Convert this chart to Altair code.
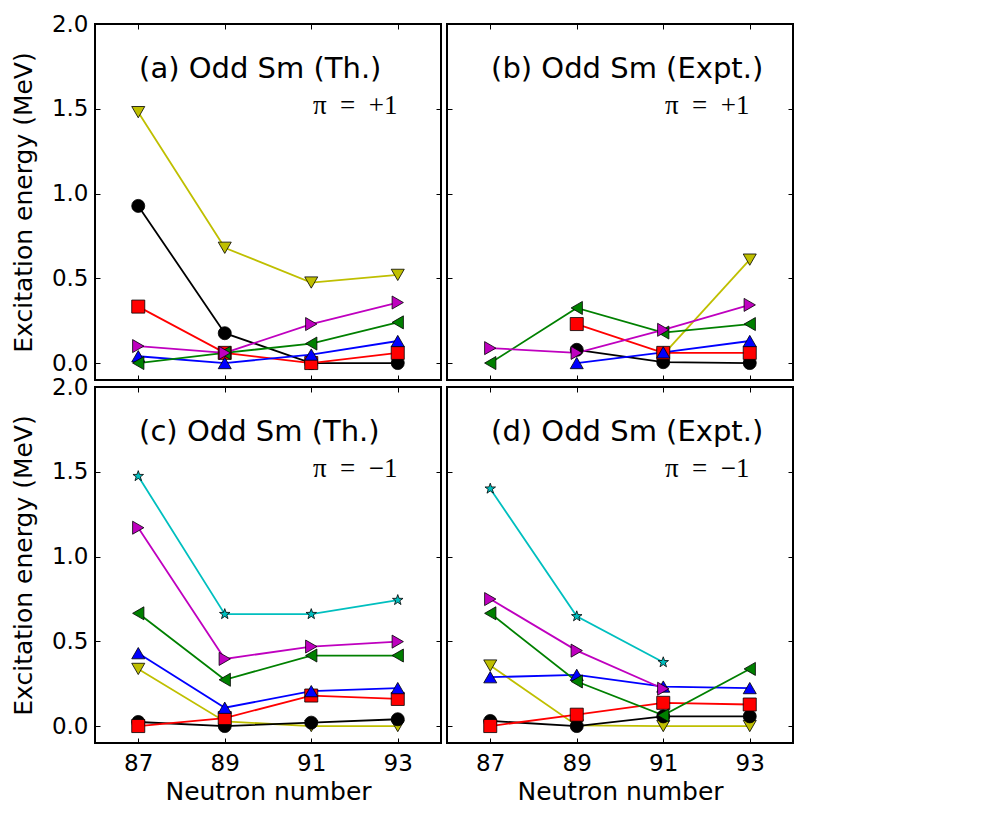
import math
import altair as alt
import pandas as pd

# ---------------- data ----------------
N = [87, 89, 91, 93]

POS_STATES = ["3/2⁺", "5/2⁺", "7/2⁺", "9/2⁺", "11/2⁺", "13/2⁺"]
NEG_STATES = ["3/2⁻", "5/2⁻", "7/2⁻", "9/2⁻", "11/2⁻", "13/2⁻", "15/2⁻"]

COLORS = ["#bfbf00", "#000000", "#ff0000", "#0000ff", "#008000", "#bf00bf", "#00bfbf"]

# (a) theory, positive parity
th_pos = [
    [1.48, 0.68, 0.475, 0.52],
    [0.927, 0.176, 0.0, 0.0],
    [0.333, 0.06, 0.0, 0.06],
    [0.04, 0.0, 0.05, 0.13],
    [0.0, 0.06, 0.115, 0.24],
    [0.10, 0.06, 0.23, 0.357],
]
# (b) experiment, positive parity
ex_pos = [
    [None, None, 0.05, 0.61],
    [None, 0.078, 0.005, 0.0],
    [None, 0.23, 0.06, 0.06],
    [None, 0.0, 0.063, 0.13],
    [0.0, 0.325, 0.18, 0.23],
    [0.088, 0.06, 0.196, 0.343],
]
# (c) theory, negative parity
th_neg = [
    [0.337, 0.027, 0.0, 0.0],
    [0.024, 0.0, 0.02, 0.04],
    [0.0, 0.047, 0.18, 0.16],
    [0.43, 0.108, 0.206, 0.224],
    [0.665, 0.273, 0.416, 0.416],
    [1.17, 0.396, 0.469, 0.498],
    [1.474, 0.66, 0.66, 0.743],
]
# (d) experiment, negative parity
ex_neg = [
    [0.357, 0.004, 0.0, 0.0],
    [0.03, 0.0, 0.057, 0.057],
    [0.0, 0.067, 0.137, 0.127],
    [0.288, 0.302, 0.233, 0.224],
    [0.665, 0.263, 0.063, 0.337],
    [0.749, 0.445, 0.22, None],
    [1.40, 0.647, 0.376, None],
]

TITLES = ["(a) Odd Sm (Th.)", "(b) Odd Sm (Expt.)", "(c) Odd Sm (Th.)", "(d) Odd Sm (Expt.)"]
PI_POS = "π\u2002=\u2002+1"
PI_NEG = "π\u2002=\u2002−1"

Y_TICKS = [0.0, 0.5, 1.0, 1.5, 2.0]
X_DOMAIN = [86, 94]
Y_DOMAIN = [-0.1, 2.0]
TITLE_AT = (87.02, 1.68)
PI_AT = (91.04, 1.47)

W, H = 346, 356


def star_path(outer=0.85, inner=0.34):
    # Vega has no built-in star symbol: give it as an SVG path
    pts = []
    for k in range(10):
        a = math.radians(-90 + 36 * k)
        r = outer if k % 2 == 0 else inner
        pts.append(f"{r * math.cos(a):.3f},{r * math.sin(a):.3f}")
    return "M" + "L".join(pts) + "Z"


SHAPES = ["triangle-down", "circle", "square", "triangle-up", "triangle-left",
          "triangle-right", star_path()]


def build_df(states, values):
    rows = []
    for s, vals in zip(states, values):
        for n, v in zip(N, vals):
            if v is not None:
                rows.append({"N": n, "E": v, "state": s})
    return pd.DataFrame(rows)


def axis(orient, values, labels, title=None, **kw):
    d = dict(domain=False, grid=False, ticks=True, tickSize=5, tickWidth=1,
             tickColor="black", offset=-5, labelFont="DejaVu Sans",
             labelFontSize=23, labelColor="black", titleFont="DejaVu Sans",
             titleFontSize=25, titleFontWeight="normal", titleColor="black",
             orient=orient, values=values, labels=labels, title=title)
    d.update(kw)
    return alt.Axis(**d)


def make_legend(x, y, pad, rowpad, symoff, laboff):
    return alt.Legend(title=None, orient="none", legendX=x, legendY=y,
                      direction="vertical", padding=pad, rowPadding=rowpad,
                      symbolOffset=symoff, labelOffset=laboff, symbolSize=170,
                      symbolStrokeWidth=0.8, symbolStrokeColor="black",
                      labelFont="Liberation Serif", labelFontSize=30,
                      labelColor="black", strokeColor="black", fillColor="white",
                      labelExpr="datum.label + '  '")


def panel(df, states, title, pi_text, show_x, show_y, legend=None):
    n = len(states)
    xs = alt.Scale(domain=X_DOMAIN, nice=False, zero=False)
    ys = alt.Scale(domain=Y_DOMAIN, nice=False, zero=False)
    cs = alt.Scale(domain=states, range=COLORS[:n])
    ss = alt.Scale(domain=states, range=SHAPES[:n])

    xax = axis("bottom", N, show_x, "Neutron number" if show_x else None,
               format="d", labelPadding=9, titlePadding=4)
    yax = axis("left", Y_TICKS, show_y,
               "Excitation energy (MeV)" if show_y else None,
               format=".1f", labelPadding=7, titlePadding=15)

    lines = alt.Chart(df).mark_line(strokeWidth=1.8).encode(
        x=alt.X("N:Q", scale=xs, axis=xax),
        y=alt.Y("E:Q", scale=ys, axis=yax),
        color=alt.Color("state:N", scale=cs, legend=None),
    )
    frame = alt.Chart(df).mark_point(opacity=0).encode(
        x=alt.X("N:Q", axis=axis("top", N, False)),
        y=alt.Y("E:Q", axis=axis("right", Y_TICKS, False)),
    )
    pts = alt.Chart(df).mark_point(filled=True, size=170, stroke="black",
                                   strokeWidth=0.8, opacity=1).encode(
        x=alt.X("N:Q", axis=None),
        y=alt.Y("E:Q", axis=None),
        color=alt.Color("state:N", scale=cs, legend=legend),
        shape=alt.Shape("state:N", scale=ss, legend=legend),
    )
    ttl = alt.Chart(pd.DataFrame({"t": [title]})).mark_text(
        align="left", baseline="alphabetic", font="DejaVu Sans", fontSize=29,
        color="black").encode(
        x=alt.XDatum(TITLE_AT[0], axis=None), y=alt.YDatum(TITLE_AT[1], axis=None),
        text="t:N")
    pit = alt.Chart(pd.DataFrame({"t": [pi_text]})).mark_text(
        align="left", baseline="alphabetic", font="Liberation Serif", fontSize=27,
        color="black").encode(
        x=alt.XDatum(PI_AT[0], axis=None), y=alt.YDatum(PI_AT[1], axis=None),
        text="t:N")

    return alt.layer(lines, frame, pts, ttl, pit).resolve_axis(
        x="independent", y="independent").properties(width=W, height=H)


df_a = build_df(POS_STATES, th_pos)
df_b = build_df(POS_STATES, ex_pos)
df_c = build_df(NEG_STATES, th_neg)
df_d = build_df(NEG_STATES, ex_neg)

pa = panel(df_a, POS_STATES, TITLES[0], PI_POS, False, True)
pb = panel(df_b, POS_STATES, TITLES[1], PI_POS, False, False,
           legend=make_legend(326, 15, 13, 21, 13.5, 53))
pc = panel(df_c, NEG_STATES, TITLES[2], PI_NEG, True, True)
pd_ = panel(df_d, NEG_STATES, TITLES[3], PI_NEG, True, False,
            legend=make_legend(322, 13, 12, 16.3, 16.5, 56))

chart = alt.concat(pa, pb, pc, pd_, columns=2, spacing={"row": 7, "column": 6},
                   bounds="flush").resolve_scale(
    color="independent", shape="independent").properties(
    padding={"left": 10, "top": 12, "right": 10, "bottom": 10},
).configure_view(stroke="black", strokeWidth=2)

chart.save("out.html", embed_options={"renderer": "svg", "actions": False})
